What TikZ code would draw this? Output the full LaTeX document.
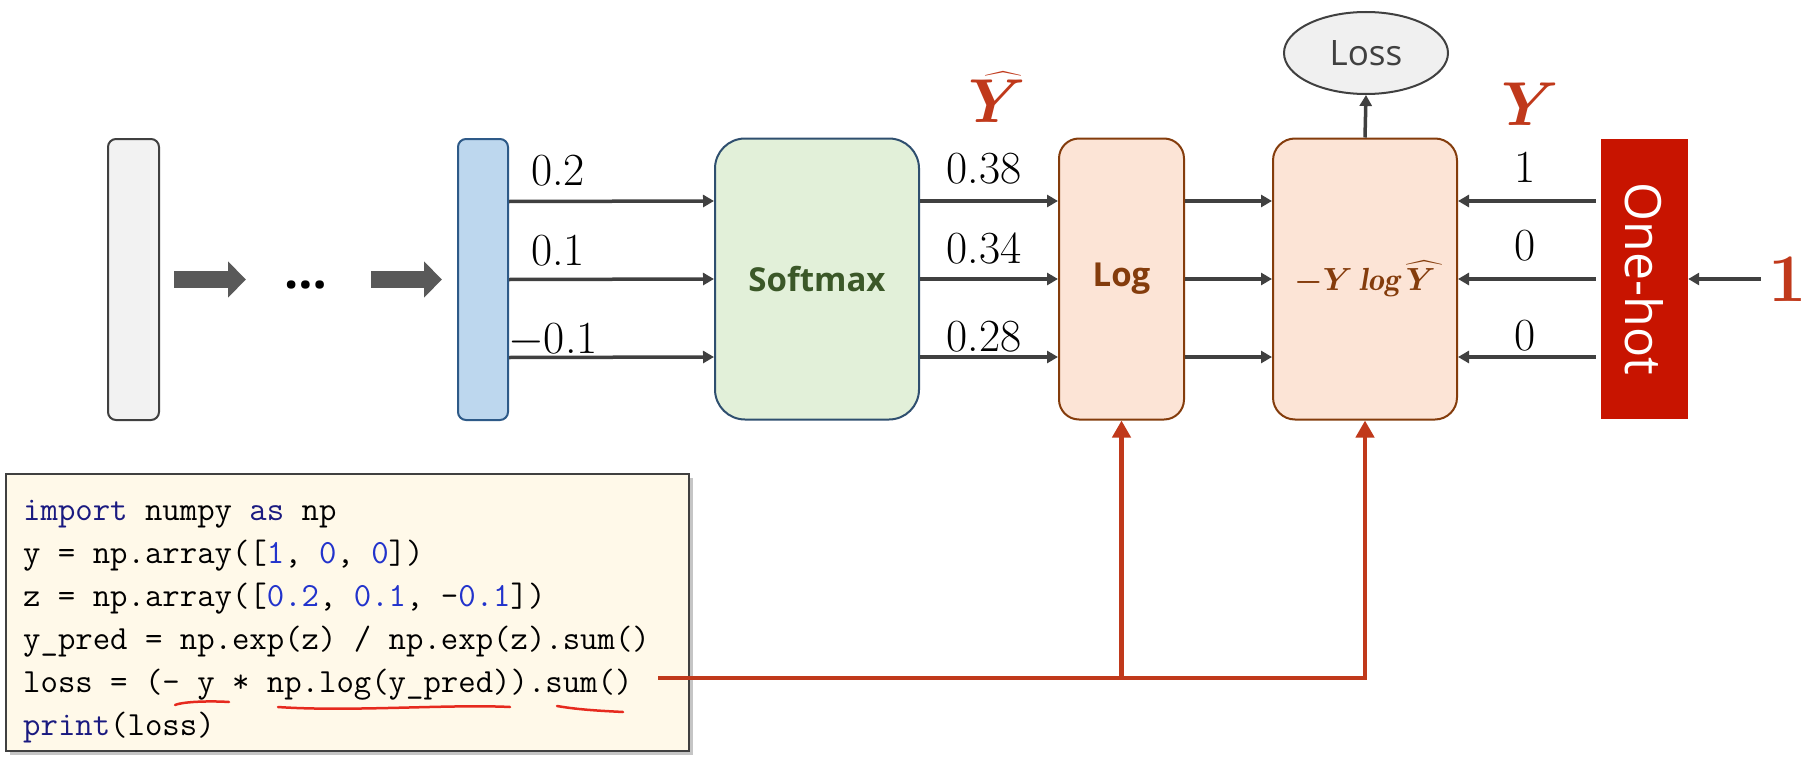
\RequirePackage{fix-cm}
\documentclass[tikz,border=0pt]{standalone}
\usepackage{amsmath}
\usepackage{graphicx}
\usepackage{fontspec}
\setsansfont{Open Sans}
\usetikzlibrary{arrows.meta, shapes.geometric, shadows}
\definecolor{edgegray}{HTML}{404040}
\definecolor{blockgray}{HTML}{595959}
\definecolor{barfill}{HTML}{F2F2F2}
\definecolor{hidfill}{HTML}{BDD7EE}
\definecolor{hidline}{HTML}{2E5A88}
\definecolor{softfill}{HTML}{E2F0D9}
\definecolor{softline}{HTML}{2F4F6F}
\definecolor{softtext}{HTML}{3B5828}
\definecolor{logfill}{HTML}{FCE4D6}
\definecolor{logline}{HTML}{843C0C}
\definecolor{hotred}{HTML}{C81400}
\definecolor{lblred}{HTML}{C0391B}
\definecolor{codefill}{HTML}{FFF9E9}
\definecolor{kwblue}{HTML}{1A1A80}
\definecolor{numblue}{HTML}{2233CC}
\definecolor{penred}{HTML}{E62A1E}
\newcommand{\yhatsym}{\widehat{Y\kern0.22em}\kern-0.22em}
\tikzset{
  vbar/.style={draw=edgegray, line width=2pt, rounded corners=8pt, minimum width=51pt, minimum height=281pt, inner sep=0pt},
  block/.style={draw, line width=2pt, minimum height=281pt, inner sep=0pt, font=\sffamily\bfseries\fontsize{33}{33}\selectfont},
  conn/.style={draw=edgegray, line width=3.5pt, -{Triangle[length=11pt,width=12pt]}},
  fat/.style={draw=blockgray, line width=17pt, -{Triangle[length=18pt,width=35pt]}},
  feed/.style={draw=lblred, line width=4.5pt, -{Triangle[length=17pt,width=18pt]}},
  val/.style={font=\fontsize{46}{46}\selectfont, inner sep=0pt},
  sym/.style={text=lblred, font=\fontsize{62}{62}\selectfont\boldmath, inner sep=0pt},
  codebox/.style={draw=edgegray, fill=codefill, line width=2.5pt, minimum width=683pt, minimum height=277pt, inner sep=0pt,
      drop shadow={shadow xshift=4pt, shadow yshift=-4pt, opacity=0.45, fill=gray}},
  codeline/.style={anchor=base west, inner sep=0pt, font=\ttfamily\fontsize{33.8}{43}\selectfont},
  scrib/.style={draw=penred, line width=2.5pt, line cap=round},
}

\begin{document}
\begin{tikzpicture}[x=1pt, y=-1pt]
  \useasboundingbox (0,0) rectangle (1815,768);
  \fill[white] (0,0) rectangle (1815,768);

  \node[vbar, fill=barfill] (inp) at (133.5,279.5) {};
  \node[font=\sffamily\bfseries\fontsize{50}{50}\selectfont, inner sep=0pt] (dots) at (306,285) {…};
  \node[vbar, fill=hidfill, draw=hidline, minimum width=50pt] (hid) at (483,279.5) {};
  \draw[fat, shorten <=14pt] (inp.east) -- ([xshift=-60pt]dots.center |- inp.east);
  \draw[fat, shorten >=15pt] ([xshift=65pt]dots.center |- hid.west) -- (hid.west);

  \node[block, fill=softfill, draw=softline, text=softtext, rounded corners=30pt, minimum width=204pt] (soft) at (817,279) {Softmax};
  \node[block, fill=logfill, draw=logline, text=logline, rounded corners=20pt, minimum width=125pt] (logb) at (1121.5,279) {Log};
  \node[block, fill=logfill, draw=logline, text=logline, rounded corners=22pt, minimum width=184pt,
        font=\fontsize{32}{32}\selectfont\boldmath] (ce) at (1365,279) {$-Y\,\mathit{log}\,\yhatsym$};
  \node[ellipse, draw=edgegray, fill=gray!12, line width=2pt, minimum width=164pt, minimum height=82pt, inner sep=0pt,
        text=edgegray, font=\sffamily\fontsize{35}{35}\selectfont] (loss) at (1366,53) {Loss};
  \node[fill=hotred, minimum width=87pt, minimum height=280pt, inner sep=0pt, text=white,
        font=\sffamily\fontsize{50}{50}\selectfont] (onehot) at (1644.5,279) {\rotatebox{-90}{One-hot}};
  \node[font=\bfseries\fontsize{68}{68}\selectfont, text=lblred, inner ysep=0pt, inner xsep=8pt] (cls) at (1788,279) {1};

  \foreach \dy in {78,0,-78} {
    \draw[conn] ([yshift=\dy pt]hid.east) -- ([yshift=\dy pt]soft.west);
    \draw[conn] ([yshift=\dy pt]soft.east) -- ([yshift=\dy pt]logb.west);
    \draw[conn] ([yshift=\dy pt]logb.east) -- ([yshift=\dy pt]ce.west);
    \draw[conn, shorten <=5pt] ([yshift=\dy pt]onehot.west) -- ([yshift=\dy pt]ce.east);
  }
  \draw[conn] (ce.north) -- (loss.south);
  \draw[conn] (cls.west) -- (onehot.east);

  \node[val, anchor=base west] (z1) at (531,185) {0.2};
  \node[val, anchor=base west] (z2) at (531,265) {0.1};
  \node[val, anchor=base west] (z3) at (508,353) {$-$0.1};
  \node[val, anchor=base] (p1) at (984,183) {0.38};
  \node[val, anchor=base] (p2) at (984,263) {0.34};
  \node[val, anchor=base] (p3) at (984,351) {0.28};
  \node[val, anchor=base] (t1) at (1525,182) {1};
  \node[val, anchor=base] (t2) at (1525,260) {0};
  \node[val, anchor=base] (t3) at (1525,350) {0};
  \node[sym] (yhat) at (997,97) {$\yhatsym$};
  \node[sym] (ytrue) at (1530,104) {$Y$};

  \node[codebox] (code) at (347.5,612.5) {};
  \node[codeline] (c1) at (23,520) {\textcolor{kwblue}{import} numpy \textcolor{kwblue}{as} np};
  \node[codeline] (c2) at (23,563) {y = np.array([\textcolor{numblue}{1}, \textcolor{numblue}{0}, \textcolor{numblue}{0}])};
  \node[codeline] (c3) at (23,606) {z = np.array([\textcolor{numblue}{0.2}, \textcolor{numblue}{0.1}, -\textcolor{numblue}{0.1}])};
  \node[codeline] (c4) at (23,649) {y\_pred = np.exp(z) / np.exp(z).sum()};
  \node[codeline] (c5) at (23,692) {loss = (- y * np.log(y\_pred)).sum()};
  \node[codeline] (c6) at (23,735) {\textcolor{kwblue}{print}(loss)};
  \draw[scrib] (175,705) .. controls (185,701) and (215,701) .. (229,702);
  \draw[scrib] (278,707) .. controls (350,712) and (450,704) .. (510,707);
  \draw[scrib] (557,706) .. controls (580,710) and (605,711) .. (623,712);

  \coordinate (tap) at (658,678);
  \draw[feed] (tap) -| (ce.south);
  \draw[feed] (logb.south |- tap) -- (logb.south);
\end{tikzpicture}
\end{document}
